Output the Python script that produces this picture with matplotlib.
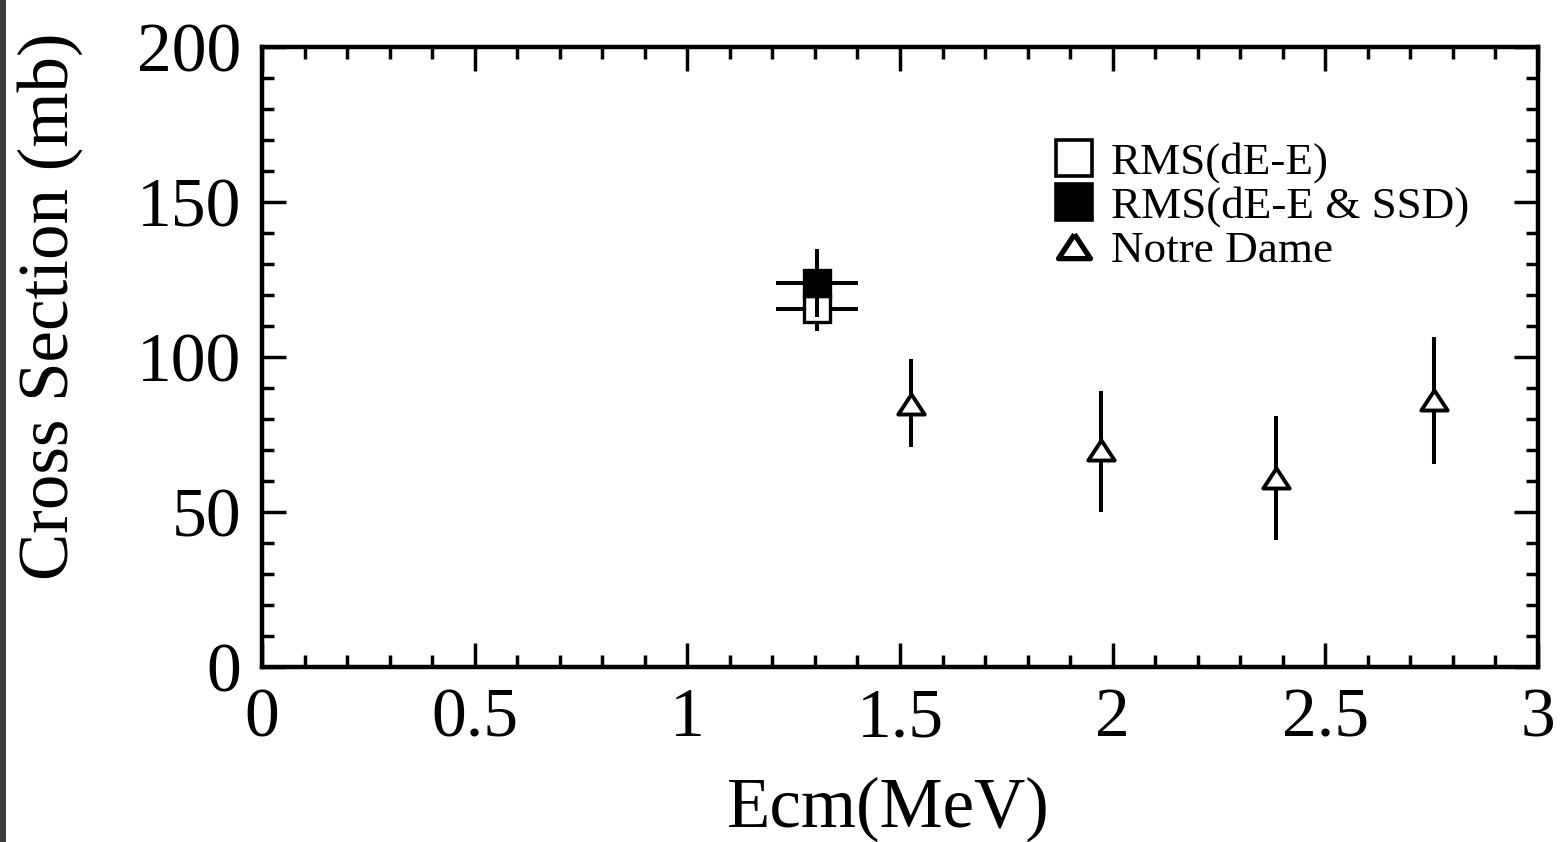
import matplotlib
matplotlib.use("Agg")
import matplotlib.pyplot as plt
from matplotlib.lines import Line2D
from matplotlib.patches import Rectangle
from matplotlib.ticker import MultipleLocator

plt.rcParams['font.family'] = ['Liberation Serif', 'DejaVu Serif']

# RMS measurements (single energy, two analysis methods)
rms_x = [1.305]
rms_x_err = [0.097]
rms_dee_y = [115.5]
rms_dee_err = [7.0]
rms_ssd_y = [124.0]
rms_ssd_err = [11.0]

# Notre Dame measurements
nd_x = [1.526, 1.972, 2.383, 2.756]
nd_y = [85.0, 70.0, 61.0, 86.0]
nd_err_lo = [14.0, 20.0, 20.0, 20.5]
nd_err_hi = [14.5, 19.0, 20.0, 20.5]

x_ticks = [0, 0.5, 1, 1.5, 2, 2.5, 3]
x_tick_labels = ['0', '0.5', '1', '1.5', '2', '2.5', '3']
y_ticks = [0, 50, 100, 150, 200]
y_tick_labels = ['0', '50', '100', '150', '200']

legend_labels = ['RMS(dE-E)', 'RMS(dE-E & SSD)', 'Notre Dame']

# flattened up-pointing triangle
tri = [(0, 0.76), (-1, -0.76), (1, -0.76), (0, 0.76)]

fig = plt.figure(figsize=(15.66, 8.42), dpi=100)
ax = fig.add_axes([262 / 1566, 1 - 667 / 842, 1276 / 1566, 620 / 842])

lw_bar = 2.9
ax.errorbar(rms_x, rms_dee_y, xerr=rms_x_err, yerr=rms_dee_err, fmt='s',
            ms=19, mfc='white', mec='black', mew=2.4, ecolor='black',
            elinewidth=lw_bar, capsize=0, zorder=3)
ax.errorbar(rms_x, rms_ssd_y, xerr=rms_x_err, yerr=rms_ssd_err, fmt='s',
            ms=19, mfc='black', mec='black', mew=2.4, ecolor='black',
            elinewidth=lw_bar, capsize=0, zorder=4)
ax.errorbar(nd_x, nd_y, yerr=[nd_err_lo, nd_err_hi], fmt='none',
            ecolor='black', elinewidth=lw_bar, capsize=0, zorder=3)
ax.plot(nd_x, nd_y, ls='none', marker=tri, ms=19, mfc='white', mec='black',
        mew=2.8, zorder=5)

ax.set_xlim(0, 3)
ax.set_ylim(0, 200)
ax.set_xticks(x_ticks)
ax.set_xticklabels(x_tick_labels)
ax.set_yticks(y_ticks)
ax.set_yticklabels(y_tick_labels)
ax.xaxis.set_minor_locator(MultipleLocator(0.1))
ax.yaxis.set_minor_locator(MultipleLocator(10))
ax.tick_params(which='both', direction='in', top=True, right=True,
               width=2.5, color='black')
ax.tick_params(which='major', length=17, labelsize=50)
ax.tick_params(which='minor', length=8.5)
ax.tick_params(axis='x', which='major', pad=15)
ax.tick_params(axis='y', which='major', pad=15)
for s in ax.spines.values():
    s.set_linewidth(3.2)

ax.set_xlabel('Ecm(MeV)', fontsize=51)
ax.xaxis.set_label_coords(0.491, -0.176)
ax.xaxis.label.set_verticalalignment('top')
ax.set_ylabel('Cross Section (mb)', fontsize=51)
ax.yaxis.set_label_coords(-0.140, 0.582)

handles = [
    Line2D([], [], ls='none', marker='s', ms=26, mfc='white', mec='black', mew=2.6),
    Line2D([], [], ls='none', marker='s', ms=26, mfc='black', mec='black', mew=2.6),
    Line2D([], [], ls='none', marker=tri, ms=23, mfc='white', mec='black', mew=3.8),
]
ax.legend(handles, legend_labels, loc='upper left',
          bbox_to_anchor=(0.619, 0.847), frameon=False, fontsize=32.5,
          handlelength=1.0, handletextpad=0.3, labelspacing=0.07,
          borderpad=0, borderaxespad=0)

# dark strip along the left edge of the figure
fig.patches.append(Rectangle((0, 0), 6 / 1566, 1, transform=fig.transFigure,
                             facecolor='#3d3d3d', edgecolor='none'))

fig.savefig('out.png', dpi=100)
